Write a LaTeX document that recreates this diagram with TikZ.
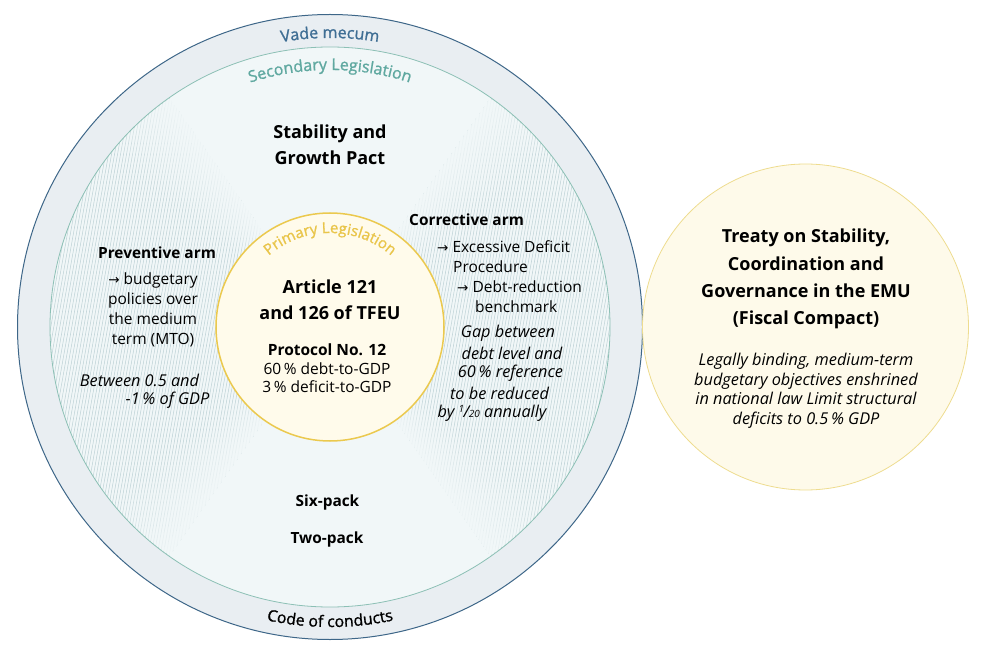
\documentclass[tikz,border=0pt]{standalone}
\usepackage{fontspec}
\setmainfont{Open Sans}
\newfontfamily\medfont{Open Sans}[FakeBold=1.2]
\newfontfamily\arrowfont{DejaVu Sans}
\usetikzlibrary{decorations.text}
\definecolor{outerfill}{HTML}{E9EEF2}
\definecolor{outerdraw}{HTML}{3D6688}
\definecolor{innerfill}{HTML}{F1F7F8}
\definecolor{innerdraw}{HTML}{8CC0B5}
\definecolor{hatchc}{HTML}{BDD1D5}
\definecolor{centerfill}{HTML}{FFFBEB}
\definecolor{centerdraw}{HTML}{EBC94E}
\definecolor{rightfill}{HTML}{FEFAEA}
\definecolor{rightdraw}{HTML}{EEDC8F}
\definecolor{vadec}{HTML}{3F6E94}
\definecolor{secc}{HTML}{5FA8A0}
\definecolor{primc}{HTML}{E9C54A}
\newcommand{\arr}{{\arrowfont\fontsize{13.5}{13.5}\selectfont →}}
\tikzset{
  bigbold/.style={font=\fontsize{18}{26}\selectfont\bfseries, align=center, inner sep=0pt},
  midbold/.style={font=\fontsize{15.4}{18}\selectfont\bfseries, inner sep=0pt},
  body/.style={font=\fontsize{15.5}{20}\selectfont, inner sep=0pt},
  ital/.style={font=\fontsize{16.3}{20}\selectfont\itshape, inner sep=0pt},
}
\begin{document}
\begin{tikzpicture}[x=1pt,y=1pt]
\useasboundingbox (0,0) rectangle (982,646);
\coordinate (c) at (330,319);
% circles (fills)
\node[circle, fill=outerfill, minimum size=625pt, inner sep=0pt] (outer) at (c) {};
\node[circle, fill=innerfill, minimum size=560pt, inner sep=0pt] (inner) at (c) {};
% hatching
\begin{scope}
\clip (c) -- ({330+280*cos(125)},{319+280*sin(125)}) arc[start angle=125,end angle=235,radius=280] -- cycle;
\foreach \x in {-120,-117,...,340} \draw[hatchc, line width=0.5pt] (\x,0) -- ++(115,646);
\end{scope}
\begin{scope}
\clip (c) -- ({330+280*cos(-55)},{319+280*sin(-55)}) arc[start angle=-55,end angle=55,radius=280] -- cycle;
\foreach \x in {280,283,...,720} \draw[hatchc, line width=0.5pt] (\x,0) -- ++(115,646);
\end{scope}
% fading near the sector edges
\foreach \a/\s in {125/1, 235/-1, 55/-1, -55/1}{
  \foreach \k in {1,...,8}{
    \pgfmathsetmacro\sa{\a+\s*(\k-1)*2}
    \pgfmathsetmacro\ea{\a+\s*\k*2}
    \pgfmathsetmacro\op{1-\k/9}
    \fill[innerfill, opacity=\op] (c) -- ({330+279*cos(\sa)},{319+279*sin(\sa)}) arc[start angle=\sa,end angle=\ea,radius=279] -- cycle;
  }
}
% strokes
\draw[outerdraw, line width=1pt] (c) circle[radius=312.5];
\draw[innerdraw, line width=0.8pt] (c) circle[radius=280];
\node[circle, draw=centerdraw, fill=centerfill, line width=1.5pt, minimum size=228pt, inner sep=0pt] (prim) at (c) {};
\node[circle, draw=rightdraw, fill=rightfill, line width=0.8pt, minimum size=326pt, inner sep=0pt] (fc) at (805.5,319) {};
% curved labels
\path[decorate, decoration={text along path, text align=center, text color=vadec,
  text={|\medfont\fontsize{16}{18}\selectfont|Vade mecum}}]
  ({330+289*cos(150)},{319+289*sin(150)}) arc[start angle=150,end angle=30,radius=289];
\path[decorate, decoration={text along path, text align=center, text color=secc,
  text={|\medfont\fontsize{16}{18}\selectfont|Secondary Legislation}}]
  ({330+257*cos(150)},{319+257*sin(150)}) arc[start angle=150,end angle=30,radius=257];
\path[decorate, decoration={text along path, text align=center, text color=primc,
  text={|\medfont\fontsize{15}{16}\selectfont|Primary Legislation}}]
  ({330+94*cos(170)},{319+94*sin(170)}) arc[start angle=170,end angle=10,radius=94];
\path[decorate, decoration={text along path, text align=center, text color=black,
  text={|\medfont\fontsize{15.8}{18}\selectfont|Code of conducts}}]
  ({330+300*cos(210)},{319+300*sin(210)}) arc[start angle=210,end angle=330,radius=300];
% Stability and Growth Pact
\node[bigbold] (sgp) at (330,501) {Stability and\\Growth Pact};
% preventive arm
\node[midbold] (prev) at (157,393) {Preventive arm};
\node[body, align=center] (prevtxt) at (153,336) {\arr\ budgetary\\policies over\\the medium\\term (MTO)};
\node[ital] (prev1) at (139.5,266) {Between 0.5 and};
\node[ital] (prev2) at (167.5,246) {-1\,\% of GDP};
% corrective arm
\node[midbold, anchor=west] (corr) at (409,426) {Corrective arm};
\node[body, anchor=west] (corr1) at (437,399) {\arr\ Excessive Deficit};
\node[body, anchor=west] (corr2) at (453,379) {Procedure};
\node[body, anchor=west] (corr3) at (457,359) {\arr\ Debt-reduction};
\node[body, anchor=west] (corr4) at (475,339) {benchmark};
\node[ital] (gap1) at (508,313) {Gap between};
\node[ital] (gap2) at (512,293) {debt level and};
\node[ital] (gap3) at (510.5,273) {60\,\% reference};
\node[ital] (gap4) at (499.5,253) {to be reduced};
\node[ital] (gap5) at (492,233) {by {\raisebox{0.5ex}{\fontsize{10}{10}\selectfont 1}\kern-0.5pt/\kern-0.5pt\fontsize{10}{10}\selectfont 20} annually};
% primary legislation content
\node[bigbold] (art) at (330,346.5) {Article 121\\and 126 of TFEU};
\node[body, align=center, font=\fontsize{15.5}{18.5}\selectfont] (proto) at (327,277.5) {\textbf{Protocol No. 12}\\60\,\% debt-to-GDP\\3\,\% deficit-to-GDP};
% packs
\node[midbold] (six) at (327.5,144) {Six-pack};
\node[midbold] (two) at (327,107) {Two-pack};
% fiscal compact
\node[bigbold, font=\fontsize{18}{27.3}\selectfont\bfseries] (fctitle) at (806,367) {Treaty on Stability,\\Coordination and\\Governance in the EMU\\(Fiscal Compact)};
\node[ital, align=center, font=\fontsize{16.3}{19.5}\selectfont\itshape] (fctxt) at (806,255) {Legally binding, medium-term\\budgetary objectives enshrined\\in national law Limit structural\\deficits to 0.5\,\% GDP};
\end{tikzpicture}
\end{document}
